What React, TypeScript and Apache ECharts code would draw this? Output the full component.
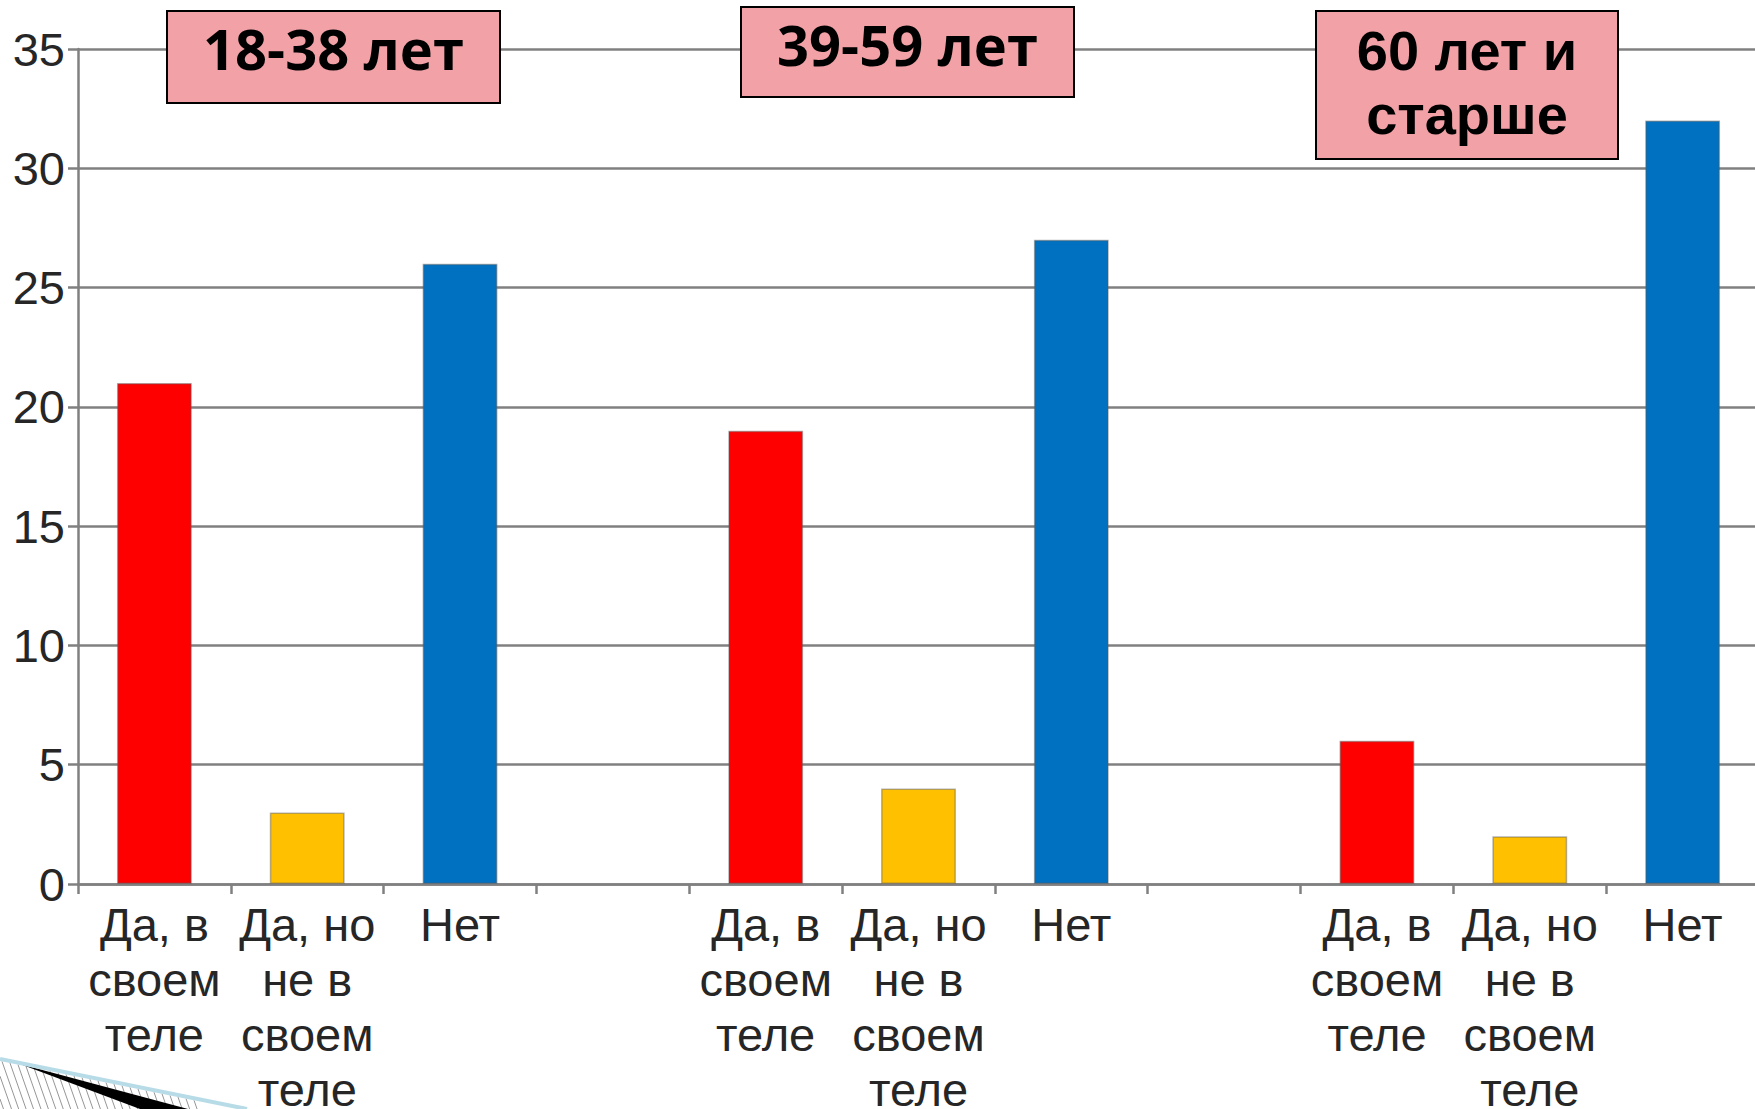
import React, { useEffect, useRef } from "react";
import * as echarts from "echarts";

const answers = ["Да, в\nсвоем\nтеле", "Да, но\nне в\nсвоем\nтеле", "Нет"];
const groupTitles = ["18-38 лет", "39-59 лет", "60 лет и\nстарше"];
const values18to38 = [21, 3, 26];
const values39to59 = [19, 4, 27];
const values60plus = [6, 2, 32];
const answerColors = ["#FF0000", "#FFC000", "#0070C0"];
const yMin = 0;
const yMax = 35;
const yInterval = 5;

export default function App() {
  const ref = useRef<HTMLDivElement>(null);

  useEffect(() => {
    if (!ref.current) return;
    const chart = echarts.init(ref.current, null, { renderer: "svg" });

    const groupValues = [values18to38, values39to59, values60plus];
    const categories: string[] = [];
    const data: any[] = [];
    groupValues.forEach((vals, gi) => {
      vals.forEach((v, i) => {
        categories.push(answers[i]);
        data.push({ value: v, itemStyle: { color: answerColors[i] } });
      });
      if (gi < groupValues.length - 1) {
        categories.push("");
        data.push("-");
      }
    });

    const axisGray = "#808080";
    const labelColor = "#262626";

    // title boxes
    const boxes = [
      { x: 167, y: 11, w: 333, h: 92, font: "Open Sans", size: 56, dy: -9 },
      { x: 741, y: 7, w: 333, h: 90, font: "Open Sans", size: 56, dy: -8 },
      { x: 1316, y: 11, w: 302, h: 148, font: "Liberation Sans", size: 56, dy: -3 },
    ];
    const boxGraphics: any[] = boxes.map((b, i) => ({
      type: "group",
      z: 100,
      children: [
        {
          type: "rect",
          z: 100,
          shape: { x: b.x, y: b.y, width: b.w, height: b.h },
          style: { fill: "#F2A2A7", stroke: "#000", lineWidth: 2 },
        },
        {
          type: "text",
          z: 101,
          style: {
            text: groupTitles[i],
            x: b.x + b.w / 2,
            y: b.y + b.h / 2 + b.dy,
            textAlign: "center",
            textVerticalAlign: "middle",
            fontFamily: b.font,
            fontWeight: "bold",
            fontSize: b.size,
            lineHeight: 64,
            fill: "#000",
          },
        },
      ],
    }));

    // bottom-left slide decoration (hatched wedge)
    const deco: any[] = [];
    const slope = 50 / 247;
    for (let x0 = -30; x0 < 200; x0 += 8) {
      let xs: number;
      let ys: number;
      if (x0 < 0) {
        xs = 0;
        ys = 1059 + -x0 / 0.35;
      } else {
        xs = x0;
        ys = 1059 + x0 * slope + 2;
      }
      if (ys >= 1109) continue;
      const endX = xs + (1109 - ys) * 0.35;
      deco.push({
        type: "line",
        z: 50,
        shape: { x1: xs, y1: ys, x2: endX, y2: 1109 },
        style: { stroke: "#8a8a8a", lineWidth: 0.9 },
      });
    }
    deco.push({
      type: "polygon",
      z: 51,
      shape: { points: [[20, 1064], [188, 1109], [140, 1109]] },
      style: { fill: "#000" },
    });
    deco.push({
      type: "line",
      z: 52,
      shape: { x1: 0, y1: 1059, x2: 247, y2: 1109 },
      style: { stroke: "#B7DCE8", lineWidth: 4 },
    });

    chart.setOption({
      animation: false,
      backgroundColor: "#fff",
      grid: {
        left: 78,
        right: -4,
        top: 49,
        bottom: 225,
        containLabel: false,
        outerBoundsMode: "none",
      },
      xAxis: {
        type: "category",
        data: categories,
        boundaryGap: true,
        axisLine: { show: true, lineStyle: { color: axisGray, width: 2.5 } },
        axisTick: {
          show: true,
          interval: 0,
          length: 10,
          lineStyle: { color: axisGray, width: 2.5 },
        },
        axisLabel: {
          interval: 0,
          margin: 13,
          color: labelColor,
          fontFamily: "Liberation Sans",
          fontSize: 47,
          lineHeight: 55,
          align: "center",
        },
        splitLine: { show: false },
      },
      yAxis: {
        type: "value",
        min: yMin,
        max: yMax,
        interval: yInterval,
        axisLine: { show: true, lineStyle: { color: axisGray, width: 2.5 } },
        axisTick: { show: true, length: 10, lineStyle: { color: axisGray, width: 2.5 } },
        axisLabel: {
          margin: 13,
          color: labelColor,
          fontFamily: "Liberation Sans",
          fontSize: 47,
        },
        splitLine: { show: true, lineStyle: { color: axisGray, width: 2.5 } },
      },
      series: [
        {
          type: "bar",
          data,
          barWidth: "49%",
          itemStyle: { borderColor: "rgba(90,90,90,0.45)", borderWidth: 1.5 },
        },
      ],
      graphic: [...boxGraphics, ...deco],
    });

    return () => chart.dispose();
  }, []);

  return (
    <div
      ref={ref}
      style={{ position: "fixed", left: 0, top: 0, width: 1755, height: 1109 }}
    />
  );
}
